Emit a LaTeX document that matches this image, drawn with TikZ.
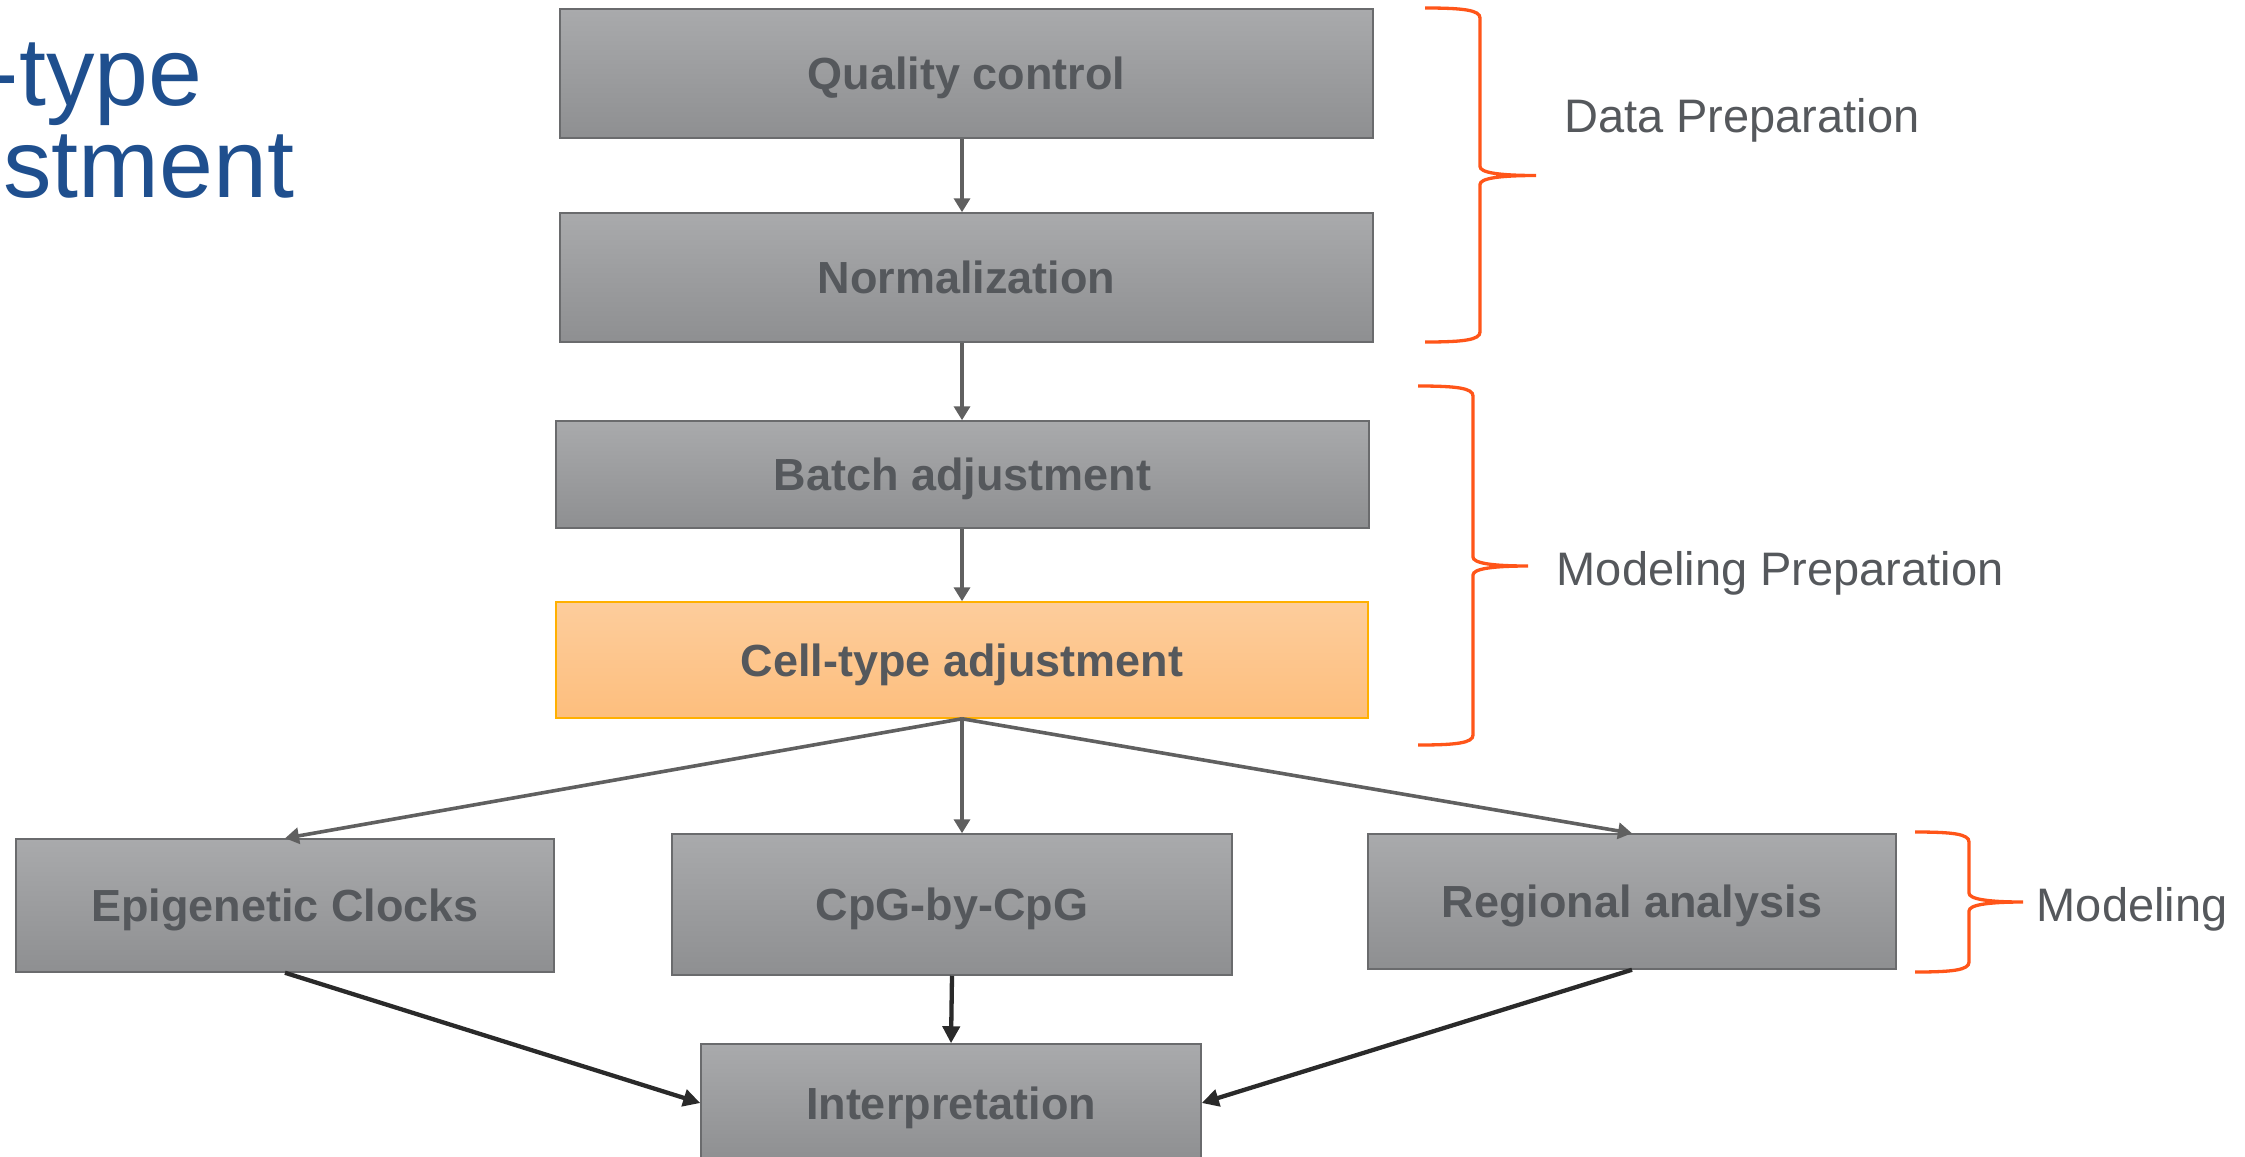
\documentclass[tikz,border=0pt]{standalone}
\usepackage{fontspec}
\setmainfont{Liberation Sans}
\usetikzlibrary{arrows.meta}

\definecolor{boxtop}{HTML}{A9AAAC}
\definecolor{boxbot}{HTML}{8E8F91}
\definecolor{boxline}{HTML}{6A6B6D}
\definecolor{boxtext}{HTML}{55585C}
\definecolor{hltop}{HTML}{FDCD9C}
\definecolor{hlbot}{HTML}{FDBE7D}
\definecolor{hlline}{HTML}{FFB000}
\definecolor{flowgray}{HTML}{606060}
\definecolor{flowdark}{HTML}{2A2A2A}
\definecolor{bracered}{HTML}{FF5519}
\definecolor{labelgray}{HTML}{55585C}
\definecolor{titleblue}{HTML}{1F4F8E}

% curly bracket opening to the left: #1 free ends x, #2 spine x, #3 tip x,
% #4 top y, #5 tip y, #6 bottom y
\newcommand\sidebrace[6]{%
  \draw[bracestyle] (#1,#4) .. controls ({#1+38},#4) and (#2,{#4+2}) .. (#2,{#4+10})
    -- (#2,{#5-9}) .. controls (#2,{#5-3}) and ({#2+18},#5) .. (#3,#5)
    (#3,#5) .. controls ({#2+18},#5) and (#2,{#5+3}) .. (#2,{#5+9})
    -- (#2,{#6-10}) .. controls (#2,{#6-2}) and ({#1+38},#6) .. (#1,#6);
}

\begin{document}
\begin{tikzpicture}[x=1bp,y=-1bp,
  stepbox/.style={shade, top color=boxtop, bottom color=boxbot, draw=boxline,
    line width=1.5bp, inner sep=0pt, text=boxtext,
    font=\bfseries\fontsize{45bp}{54bp}\selectfont, text height=32bp, text depth=0pt},
  highlight/.style={stepbox, top color=hltop, bottom color=hlbot, draw=hlline},
  flowarrow/.style={draw=flowgray, line width=3.6bp, -{Triangle[length=14bp,width=16bp]}},
  darkarrow/.style={draw=flowdark, line width=4.3bp, -{Triangle[length=17bp,width=17bp]}},
  bracestyle/.style={draw=bracered, line width=3.3bp},
  sidelabel/.style={font=\fontsize{47bp}{56bp}\selectfont, text=labelgray, inner sep=0pt, anchor=base west},
  headline/.style={font=\fontsize{97bp}{92bp}\selectfont, text=titleblue, inner sep=0pt, anchor=base west}
]
\useasboundingbox (0,0) rectangle (2245,1156);
\clip (0,0) rectangle (2245,1156);

% heading
\node[headline] (title1) at (-180.5,105) {Cell-type};
\node[headline] (title2) at (-180.5,197) {adjustment};

% pipeline steps
\node[stepbox, minimum width=813bp, minimum height=129bp] (qc) at (966.5,73.5) {Quality control};
\node[stepbox, minimum width=813bp, minimum height=129bp] (norm) at (966.5,277.5) {Normalization};
\node[stepbox, minimum width=813bp, minimum height=107bp] (batch) at (962.5,474.5) {Batch adjustment};
\node[highlight, minimum width=812bp, minimum height=116bp] (ct) at (962,660) {Cell-type adjustment};
\node[stepbox, minimum width=538bp, minimum height=133bp] (epi) at (285,905.5) {Epigenetic Clocks};
\node[stepbox, minimum width=560bp, minimum height=141bp] (cpg) at (952,904.5) {CpG-by-CpG};
\node[stepbox, minimum width=528bp, minimum height=135bp] (reg) at (1632,901.5) {Regional analysis};
\node[stepbox, minimum width=500bp, minimum height=118bp] (interp) at (951,1103) {Interpretation};

% connectors
\draw[flowarrow] (qc.south -| ct.south) -- (norm.north -| ct.south);
\draw[flowarrow] (norm.south -| ct.south) -- (batch.north -| ct.south);
\draw[flowarrow] (batch.south -| ct.south) -- (ct.north);
\draw[flowarrow] (ct.south) -- (epi.north);
\draw[flowarrow] (ct.south) -- (ct.south |- cpg.north);
\draw[flowarrow] (ct.south) -- (reg.north);
\draw[darkarrow] (epi.south) -- (interp.west);
\draw[darkarrow] (cpg.south) -- (interp.north);
\draw[darkarrow] (reg.south) -- (interp.east);

% stage brackets and their labels
\sidebrace{1425}{1480}{1536}{8}{175.5}{342}
\sidebrace{1418}{1473}{1528}{386}{566}{745}
\sidebrace{1915}{1969}{2023}{832}{902}{972}
\node[sidelabel] (lbldata) at (1564,132) {Data Preparation};
\node[sidelabel] (lblprep) at (1556.5,585) {Modeling Preparation};
\node[sidelabel] (lblmodel) at (2036.5,921) {Modeling};
\end{tikzpicture}
\end{document}
